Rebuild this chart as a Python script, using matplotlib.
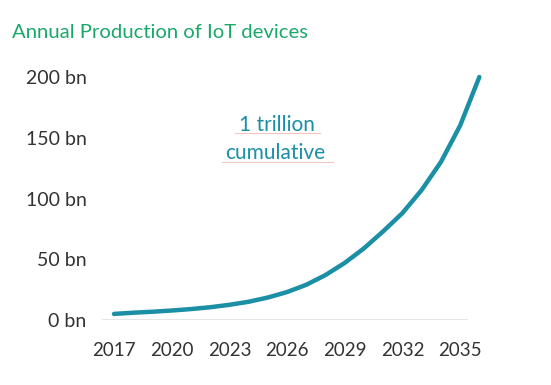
import matplotlib
matplotlib.use("Agg")
import matplotlib.pyplot as plt

# annual production, billions of devices
years = list(range(2017, 2037))
production_bn = [5, 6, 6.8, 7.8, 9, 10.5, 12.5, 15, 18.5, 23,
                 29, 37, 47, 59, 73, 88, 107, 130, 160, 200]
xtick_years = [2017, 2020, 2023, 2026, 2029, 2032, 2035]
ytick_vals = [0, 50, 100, 150, 200]
ytick_labels = ["%d bn" % v for v in ytick_vals]

teal = "#1a8fa5"
green = "#1aa86a"
dark = "#333333"

plt.rcParams["font.family"] = ["Lato", "DejaVu Sans"]

fig = plt.figure(figsize=(5.51, 3.85), dpi=100)
ax = fig.add_axes([102/551, 65/385, 366/551, 243/385])

ax.plot(years, production_bn, color=teal, lw=3.2, solid_capstyle="round", clip_on=False)
ax.axhline(0, color="#e2e2e2", lw=1.2, zorder=0)

ax.set_xlim(2016.376, 2035.41)
ax.set_ylim(0, 200)
ax.set_xticks(xtick_years)
ax.set_xticklabels([str(y) for y in xtick_years], fontsize=13.5, color=dark)
ax.set_yticks(ytick_vals)
ax.set_yticklabels(ytick_labels, fontsize=14, color=dark)
ax.tick_params(length=0, pad=11, axis="y")
ax.tick_params(length=0, pad=16, axis="x")
for s in ax.spines.values():
    s.set_visible(False)

fig.text(12/551, 1 - 32/385, "Annual Production of IoT devices", color=green,
         fontsize=14.6, va="center", ha="left")

# annotation with faint underlines
fig.text(277/551, 1 - 125/385, "1 trillion", color=teal, fontsize=15, ha="center", va="center")
fig.text(275/551, 1 - 153/385, "cumulative", color=teal, fontsize=15, ha="center", va="center")
fig.add_artist(plt.Line2D([235/551, 320/551], [1 - 133/385]*2, color="#f2c4c4", lw=0.8))
fig.add_artist(plt.Line2D([222/551, 333/551], [1 - 162/385]*2, color="#f2c4c4", lw=0.8))

fig.savefig("out.png", dpi=100)
